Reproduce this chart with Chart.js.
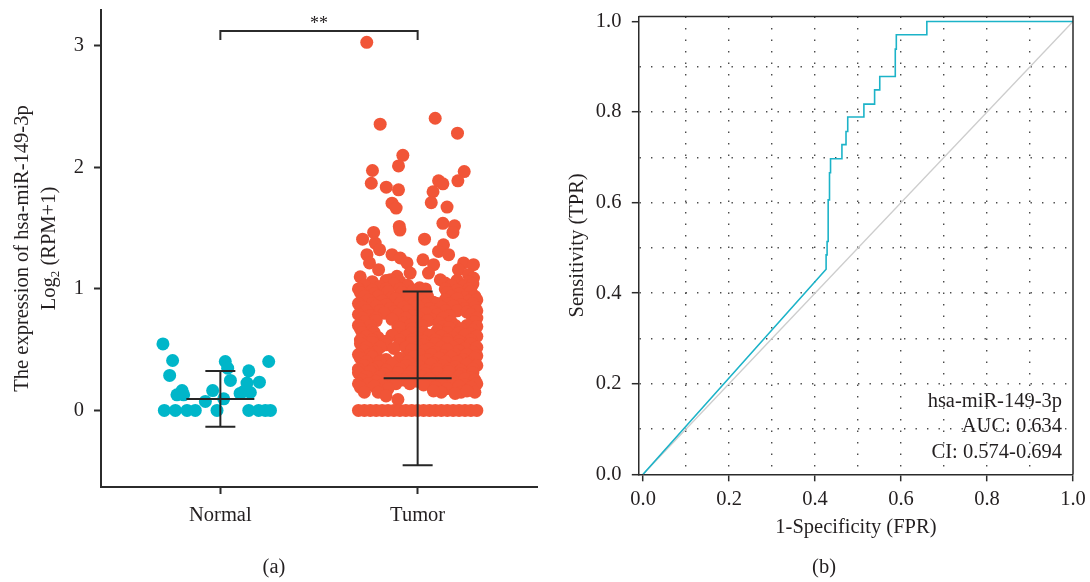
<!DOCTYPE html>
<html>
<head>
<meta charset="utf-8">
<script src="https://cdn.jsdelivr.net/npm/chart.js@4.4.1/dist/chart.umd.min.js"></script>
<style>
  html, body { margin: 0; padding: 0; background: #fff; }
  #wrap { position: relative; width: 1090px; height: 582px; overflow: hidden; }
  canvas { position: absolute; top: 0; }
  #exprChart { left: 0; }
  #rocChart { left: 545px; }
</style>
</head>
<body>
<div id="wrap">
  <canvas id="exprChart" width="545" height="582"></canvas>
  <canvas id="rocChart" width="545" height="582"></canvas>
</div>
<script>
(function () {
  "use strict";

  // ---- Panel (a): expression by group ----
  const groups      = ["Normal", "Tumor"];
  const groupColors = ["#00b6c9", "#f15537"];
  const groupMeans  = [0.095, 0.265];
  const groupSDs    = [0.23, 0.715];
  const exprTicks   = [0, 1, 2, 3];
  const exprTitle   = "The expression of hsa-miR-149-3p";
  const exprTitleLog = ["Log", "2", " (RPM+1)"];
  const sigBracket  = { from: 1, to: 2, level: 3.123, foot: 3.05, label: "**" };

  // [horizontal jitter, log2(RPM+1)]
  const normalPoints = [
    [-0.291, 0.548], [-0.242, 0.411], [-0.257, 0.288], [-0.194, 0.164], [-0.220, 0.129],
    [-0.186, 0.129], [-0.039, 0.164], [-0.076, 0.074], [0.025, 0.403], [0.037, 0.348],
    [0.051, 0.247], [0.017, 0.096], [-0.017, 0], [0.144, 0.326], [0.135, 0.225],
    [0.198, 0.233], [0.245, 0.403], [0.118, 0.156], [0.152, 0.148], [0.100, 0.140],
    [-0.284, 0], [-0.228, 0], [-0.169, 0], [-0.127, 0],
    [0.144, 0], [0.194, 0], [0.228, 0], [0.254, 0]
  ];

  const tumorPoints = [
    // sparse upper values
    [-0.258, 3.03],
    [-0.190, 2.356], [0.089, 2.405], [0.202, 2.282],
    [-0.075, 2.100], [-0.097, 2.013], [-0.229, 1.975], [-0.235, 1.870],
    [-0.159, 1.838], [-0.097, 1.816], [0.106, 1.890], [0.128, 1.865],
    [0.236, 1.966], [0.204, 1.890], [0.078, 1.800], [0.069, 1.710],
    [-0.130, 1.706], [-0.109, 1.666], [0.149, 1.674],
    [-0.093, 1.515], [-0.090, 1.485], [0.128, 1.540], [0.187, 1.520], [0.179, 1.465], [0.035, 1.410],
    [-0.223, 1.465], [-0.279, 1.410], [-0.215, 1.378], [-0.193, 1.323], [-0.257, 1.282],
    [-0.130, 1.282], [-0.088, 1.255], [-0.054, 1.214], [-0.244, 1.214], [-0.198, 1.159],
    [-0.291, 1.100], [-0.038, 1.131], [-0.105, 1.104], [-0.139, 1.076], [0.027, 1.240],
    [0.131, 1.364], [0.106, 1.309], [0.157, 1.282], [0.081, 1.200], [0.055, 1.131],
    [0.233, 1.214], [0.283, 1.200], [0.207, 1.159], [0.258, 1.118], [0.283, 1.090],
    [0.115, 1.076], [0.140, 1.049], [-0.223, 1.035], [-0.274, 0.980], [0.267, 0.940],
    [-0.282, 0.885], [-0.291, 0.800], [0.267, 0.840],
    // dense cloud
    [-0.23, 1.06], [-0.16, 1.07], [-0.09, 1.06], [0.20, 1.07], [0.26, 1.06],
    [-0.27, 1.03], [-0.19, 1.02], [-0.12, 1.04], [-0.05, 1.03], [0.01, 1.01], [0.17, 1.03], [0.23, 1.02], [0.28, 1.04],
    [-0.30, 1.00], [-0.23, 0.99], [-0.16, 1.00], [-0.09, 1.00], [-0.02, 0.99], [0.04, 1.00], [0.14, 1.00], [0.20, 0.99], [0.26, 1.00],
    [-0.29, 0.97], [-0.22, 0.96], [-0.15, 0.98], [-0.08, 0.97], [-0.01, 0.96], [0.03, 0.99], [0.15, 0.97], [0.21, 0.96], [0.27, 0.98],
    [-0.27, 0.94], [-0.20, 0.94], [-0.13, 0.93], [-0.06, 0.94], [0.00, 0.93], [0.05, 0.94], [0.17, 0.94], [0.24, 0.93], [0.29, 0.94],
    [-0.25, 0.91], [-0.18, 0.90], [-0.11, 0.92], [-0.04, 0.91], [0.02, 0.90], [0.08, 0.89], [0.14, 0.91], [0.20, 0.92], [0.26, 0.90], [0.30, 0.91],
    [-0.30, 0.88], [-0.23, 0.88], [-0.16, 0.87], [-0.09, 0.88], [-0.02, 0.88], [0.04, 0.87], [0.10, 0.88], [0.16, 0.88], [0.22, 0.87], [0.28, 0.88],
    [-0.28, 0.85], [-0.21, 0.86], [-0.14, 0.84], [-0.07, 0.85], [0.00, 0.86], [0.06, 0.84], [0.12, 0.85], [0.18, 0.86], [0.24, 0.84], [0.29, 0.85],
    [-0.26, 0.82], [-0.19, 0.82], [-0.12, 0.81], [-0.05, 0.82], [0.02, 0.82], [0.08, 0.81], [0.14, 0.82], [0.20, 0.82], [0.25, 0.81], [0.30, 0.82],
    [-0.30, 0.79], [-0.24, 0.78], [-0.17, 0.80], [-0.10, 0.79], [-0.03, 0.78], [0.04, 0.80], [0.10, 0.79], [0.16, 0.78], [0.27, 0.79],
    [-0.28, 0.76], [-0.21, 0.76], [-0.13, 0.75], [-0.06, 0.76], [0.01, 0.76], [0.07, 0.75], [0.13, 0.76], [0.30, 0.76],
    [-0.27, 0.73], [-0.21, 0.74], [-0.07, 0.72], [-0.01, 0.73], [0.05, 0.74], [0.11, 0.72], [0.17, 0.73], [0.29, 0.73],
    [-0.30, 0.70], [-0.24, 0.70], [-0.10, 0.69], [-0.04, 0.70], [0.02, 0.70], [0.13, 0.69], [0.19, 0.70], [0.25, 0.70], [0.30, 0.69],
    [-0.29, 0.67], [-0.23, 0.66], [-0.09, 0.68], [-0.03, 0.67], [0.10, 0.66], [0.16, 0.68], [0.22, 0.67], [0.28, 0.66],
    [-0.28, 0.64], [-0.22, 0.64], [-0.10, 0.63], [-0.03, 0.64], [0.03, 0.64], [0.09, 0.63], [0.15, 0.64], [0.21, 0.64], [0.27, 0.63],
    [-0.26, 0.61], [-0.20, 0.60], [-0.13, 0.62], [-0.06, 0.61], [0.00, 0.60], [0.06, 0.62], [0.12, 0.61], [0.18, 0.60], [0.24, 0.62], [0.30, 0.61],
    [-0.29, 0.58], [-0.23, 0.58], [-0.16, 0.57], [-0.09, 0.58], [-0.03, 0.58], [0.03, 0.57], [0.09, 0.58], [0.15, 0.58], [0.21, 0.57], [0.27, 0.58],
    [-0.29, 0.55], [-0.23, 0.56], [-0.16, 0.54], [-0.09, 0.55], [-0.03, 0.56], [0.03, 0.54], [0.09, 0.55], [0.15, 0.56], [0.21, 0.54], [0.27, 0.55],
    [-0.26, 0.52], [-0.19, 0.52], [-0.12, 0.51], [-0.06, 0.52], [0.00, 0.52], [0.06, 0.51], [0.12, 0.52], [0.18, 0.52], [0.24, 0.51], [0.30, 0.52],
    [-0.27, 0.49], [-0.21, 0.48], [-0.03, 0.50], [0.03, 0.49], [0.09, 0.48], [0.15, 0.50], [0.21, 0.49], [0.28, 0.48],
    [-0.30, 0.46], [-0.24, 0.46], [-0.05, 0.45], [0.01, 0.46], [0.07, 0.46], [0.13, 0.45], [0.19, 0.46], [0.25, 0.46], [0.30, 0.45],
    [-0.29, 0.43], [-0.23, 0.44], [-0.16, 0.42], [-0.09, 0.43], [-0.02, 0.44], [0.05, 0.42], [0.11, 0.43], [0.17, 0.44], [0.23, 0.42], [0.29, 0.43],
    [-0.26, 0.40], [-0.19, 0.40], [-0.12, 0.39], [-0.05, 0.40], [0.02, 0.40], [0.08, 0.39], [0.14, 0.40], [0.20, 0.40], [0.26, 0.39],
    [-0.27, 0.37], [-0.20, 0.36], [-0.13, 0.38], [-0.06, 0.37], [0.01, 0.36], [0.07, 0.38], [0.13, 0.37], [0.19, 0.36], [0.25, 0.38], [0.30, 0.37],
    [-0.30, 0.34], [-0.23, 0.34], [-0.16, 0.33], [-0.09, 0.34], [-0.02, 0.34], [0.04, 0.33], [0.10, 0.34], [0.16, 0.34], [0.22, 0.33], [0.28, 0.34],
    [-0.30, 0.31], [-0.24, 0.32], [-0.17, 0.30], [-0.10, 0.31], [-0.03, 0.32], [0.04, 0.30], [0.10, 0.31], [0.16, 0.32], [0.22, 0.30], [0.28, 0.31],
    [-0.26, 0.28], [-0.19, 0.28], [-0.12, 0.27], [-0.05, 0.28], [0.02, 0.28], [0.09, 0.27], [0.15, 0.28], [0.21, 0.28], [0.27, 0.27],
    [-0.28, 0.25], [-0.21, 0.24], [-0.14, 0.26], [-0.07, 0.25], [0.00, 0.24], [0.06, 0.26], [0.12, 0.25], [0.18, 0.24], [0.24, 0.26], [0.29, 0.25],
    [-0.30, 0.22], [-0.25, 0.22], [-0.18, 0.21], [-0.11, 0.22], [-0.04, 0.22], [0.03, 0.21], [0.12, 0.22], [0.18, 0.22], [0.24, 0.21], [0.30, 0.22],
    [-0.29, 0.19], [-0.22, 0.20], [-0.15, 0.18], [0.09, 0.19], [0.15, 0.18], [0.21, 0.20], [0.27, 0.19],
    [-0.27, 0.15], [-0.20, 0.15], [0.12, 0.15], [0.22, 0.15], [0.29, 0.15],
    [-0.16, 0.12], [-0.10, 0.09], [0.08, 0.16], [0.19, 0.14], [0.25, 0.16],
    // zero expression
    [-0.30, 0], [-0.27, 0], [-0.24, 0], [-0.21, 0], [-0.18, 0], [-0.15, 0], [-0.12, 0],
    [-0.09, 0], [-0.06, 0], [-0.03, 0], [0.00, 0], [0.03, 0], [0.06, 0], [0.09, 0],
    [0.12, 0], [0.15, 0], [0.18, 0], [0.21, 0], [0.24, 0], [0.27, 0], [0.30, 0]
  ];

  // ---- Panel (b): ROC ----
  const rocFPR = [0, 0.4257, 0.4257, 0.428, 0.428, 0.4305, 0.4305, 0.4336, 0.4336, 0.436, 0.436,
                  0.4625, 0.4625, 0.472, 0.472, 0.476, 0.476, 0.5136, 0.5136, 0.5385, 0.5385,
                  0.5505, 0.5505, 0.5866, 0.5866, 0.589, 0.589, 0.660, 0.660, 1.0];
  const rocTPR = [0, 0.453, 0.4845, 0.4845, 0.514, 0.514, 0.606, 0.606, 0.666, 0.666, 0.697,
                  0.697, 0.728, 0.728, 0.757, 0.757, 0.789, 0.789, 0.8175, 0.8175, 0.849,
                  0.849, 0.8785, 0.8785, 0.939, 0.939, 0.9706, 0.9706, 1.0, 1.0];
  const chanceFPR = [0, 1];
  const chanceTPR = [0, 1];
  const rocGridValues  = [0, 0.1, 0.2, 0.3, 0.4, 0.5, 0.6, 0.7, 0.8, 0.9, 1.0];
  const rocLabelValues = [0, 0.2, 0.4, 0.6, 0.8, 1.0];
  const rocLegend = ["hsa-miR-149-3p", "AUC: 0.634", "CI: 0.574-0.694"];
  const panelLabels = ["(a)", "(b)"];

  const FONT = '"Liberation Serif", "Times New Roman", serif';
  const FS = 20.5;
  const TEXT = "#231f20";
  const AXIS = "#2b2b2b";

  Chart.defaults.font.family = FONT;
  Chart.defaults.font.size = FS;
  Chart.defaults.color = TEXT;

  const toXY = (pts, center) => pts.map(p => ({ x: center + p[0], y: p[1] }));
  const near = (a, b) => Math.abs(a - b) < 1e-9;
  const isLabelled = v => rocLabelValues.some(t => near(t, v));

  // fixed axis boxes, no extra room for overhanging labels
  const fixY = w => s => { s.width = w; s.paddingTop = 0; s.paddingBottom = 0; };
  const fixX = h => s => { s.height = h; s.paddingLeft = 0; s.paddingRight = 0; };

  // ---- plugins for panel (a) ----
  const meanSdPlugin = {
    id: "meanSd",
    afterDatasetsDraw(chart) {
      const { ctx, scales: { x, y } } = chart;
      ctx.save();
      ctx.strokeStyle = "#262626";
      ctx.lineWidth = 2;
      groups.forEach((g, i) => {
        const cx = x.getPixelForValue(i + 1);
        const yt = y.getPixelForValue(groupMeans[i] + groupSDs[i]);
        const yb = y.getPixelForValue(groupMeans[i] - groupSDs[i]);
        const ym = y.getPixelForValue(groupMeans[i]);
        ctx.beginPath();
        ctx.moveTo(cx, yt); ctx.lineTo(cx, yb);
        ctx.moveTo(cx - 15, yt); ctx.lineTo(cx + 15, yt);
        ctx.moveTo(cx - 15, yb); ctx.lineTo(cx + 15, yb);
        ctx.moveTo(cx - 34, ym); ctx.lineTo(cx + 34, ym);
        ctx.stroke();
      });
      ctx.restore();
    }
  };

  const sigPlugin = {
    id: "sig",
    afterDatasetsDraw(chart) {
      const { ctx, scales: { x, y } } = chart;
      const x1 = x.getPixelForValue(sigBracket.from);
      const x2 = x.getPixelForValue(sigBracket.to);
      const yl = y.getPixelForValue(sigBracket.level);
      const yf = y.getPixelForValue(sigBracket.foot);
      ctx.save();
      ctx.strokeStyle = AXIS;
      ctx.lineWidth = 2;
      ctx.beginPath();
      ctx.moveTo(x1, yf); ctx.lineTo(x1, yl); ctx.lineTo(x2, yl); ctx.lineTo(x2, yf);
      ctx.stroke();
      ctx.fillStyle = TEXT;
      ctx.font = `18px ${FONT}`;
      ctx.textAlign = "center";
      ctx.textBaseline = "alphabetic";
      ctx.fillText(sigBracket.label, (x1 + x2) / 2, yl - 2);
      ctx.restore();
    }
  };

  const exprTextPlugin = {
    id: "exprText",
    afterDraw(chart) {
      const { ctx, chartArea: a } = chart;
      const cy = (a.top + a.bottom) / 2;
      ctx.save();
      ctx.fillStyle = TEXT;
      ctx.textBaseline = "middle";
      ctx.translate(23, cy);
      ctx.rotate(-Math.PI / 2);
      ctx.font = `${FS}px ${FONT}`;
      ctx.textAlign = "center";
      ctx.fillText(exprTitle, 0, 0);

      const [base, sub, rest] = exprTitleLog;
      ctx.font = `${FS}px ${FONT}`;
      const w1 = ctx.measureText(base).width;
      const w3 = ctx.measureText(rest).width;
      ctx.font = `13px ${FONT}`;
      const w2 = ctx.measureText(sub).width;
      const x0 = -(w1 + w2 + w3) / 2;
      ctx.textAlign = "left";
      ctx.font = `${FS}px ${FONT}`;
      ctx.fillText(base, x0, 27);
      ctx.font = `13px ${FONT}`;
      ctx.fillText(sub, x0 + w1, 33);
      ctx.font = `${FS}px ${FONT}`;
      ctx.fillText(rest, x0 + w1 + w2, 27);
      ctx.restore();

      ctx.save();
      ctx.fillStyle = TEXT;
      ctx.font = `${FS}px ${FONT}`;
      ctx.textAlign = "center";
      ctx.textBaseline = "middle";
      ctx.fillText(panelLabels[0], 274, 568);
      ctx.restore();
    }
  };

  new Chart(document.getElementById("exprChart"), {
    type: "scatter",
    data: {
      datasets: [
        { label: groups[0], data: toXY(normalPoints, 1), backgroundColor: groupColors[0],
          pointRadius: 6.5, pointHoverRadius: 6.5, borderWidth: 0 },
        { label: groups[1], data: toXY(tumorPoints, 2), backgroundColor: groupColors[1],
          pointRadius: 6.5, pointHoverRadius: 6.5, borderWidth: 0 }
      ]
    },
    options: {
      responsive: false,
      animation: false,
      devicePixelRatio: 1,
      events: [],
      layout: { padding: { top: 10, right: 8, left: 0, bottom: 0 } },
      plugins: { legend: { display: false }, tooltip: { enabled: false } },
      scales: {
        x: {
          type: "linear", min: 0.395, max: 2.605,
          afterBuildTicks: s => { s.ticks = [{ value: 1 }, { value: 2 }]; },
          afterFit: fixX(95),
          ticks: { callback: v => groups[v - 1], padding: 9, color: TEXT, autoSkip: false, maxRotation: 0 },
          grid: { drawOnChartArea: false, tickLength: 7, tickWidth: 2, tickColor: AXIS },
          border: { color: AXIS, width: 2 }
        },
        y: {
          min: -0.63, max: 3.296,
          afterBuildTicks: s => { s.ticks = exprTicks.map(v => ({ value: v })); },
          afterFit: fixY(101),
          ticks: { padding: 10, color: TEXT },
          grid: { drawOnChartArea: false, tickLength: 7, tickWidth: 2, tickColor: AXIS },
          border: { color: AXIS, width: 2 }
        }
      }
    },
    plugins: [meanSdPlugin, sigPlugin, exprTextPlugin]
  });

  // ---- plugins for panel (b) ----
  const framePlugin = {
    id: "frame",
    afterDraw(chart) {
      const { ctx, chartArea: a } = chart;
      ctx.save();
      ctx.strokeStyle = AXIS;
      ctx.lineWidth = 1.5;
      ctx.beginPath();
      ctx.moveTo(a.left, a.top); ctx.lineTo(a.right, a.top); ctx.lineTo(a.right, a.bottom);
      ctx.stroke();

      ctx.fillStyle = TEXT;
      ctx.font = `${FS}px ${FONT}`;
      ctx.textAlign = "right";
      ctx.textBaseline = "middle";
      rocLegend.forEach((t, i) => {
        ctx.fillText(t, a.right - 11, a.bottom - 72.6 + i * 25.3);
      });

      ctx.textAlign = "center";
      ctx.fillText(panelLabels[1], 279, 568);
      ctx.restore();
    }
  };

  const rocGrid = {
    drawOnChartArea: true,
    color: c => (c.tick && (near(c.tick.value, 0) || near(c.tick.value, 1))) ? "rgba(0,0,0,0)" : "#4a4a4a",
    lineWidth: 1.4,
    tickLength: 7,
    tickWidth: 1.5,
    tickColor: c => (c.tick && isLabelled(c.tick.value)) ? AXIS : "rgba(0,0,0,0)"
  };

  new Chart(document.getElementById("rocChart"), {
    type: "scatter",
    data: {
      datasets: [
        { label: rocLegend[0], data: rocFPR.map((f, i) => ({ x: f, y: rocTPR[i] })),
          showLine: true, borderColor: "#1cb3c8", borderWidth: 1.6, pointRadius: 0, tension: 0 },
        { label: "chance", data: chanceFPR.map((f, i) => ({ x: f, y: chanceTPR[i] })),
          showLine: true, borderColor: "#cdcdcd", borderWidth: 1.3, pointRadius: 0, tension: 0 }
      ]
    },
    options: {
      responsive: false,
      animation: false,
      devicePixelRatio: 1,
      events: [],
      layout: { padding: { top: 16.5, right: 17, left: 0, bottom: 0 } },
      plugins: { legend: { display: false }, tooltip: { enabled: false } },
      scales: {
        x: {
          type: "linear", min: -0.01, max: 1.0,
          afterBuildTicks: s => { s.ticks = rocGridValues.map(v => ({ value: v })); },
          afterFit: fixX(107.7),
          ticks: { callback: v => isLabelled(v) ? v.toFixed(1) : "", padding: 6.5, color: TEXT,
                   autoSkip: false, maxRotation: 0 },
          grid: rocGrid,
          border: { color: AXIS, width: 1.5, dash: [1.4, 10.1] },
          title: { display: true, text: "1-Specificity (FPR)", color: TEXT, padding: { bottom: 41.7, top: 0 } }
        },
        y: {
          min: 0, max: 1.011,
          afterBuildTicks: s => { s.ticks = rocGridValues.map(v => ({ value: v })); },
          afterFit: fixY(93.8),
          ticks: { callback: v => isLabelled(v) ? v.toFixed(1) : "", padding: 10.4, color: TEXT, autoSkip: false },
          grid: rocGrid,
          border: { color: AXIS, width: 1.5, dash: [1.4, 10.1] },
          title: { display: true, text: "Sensitivity (TPR)", color: TEXT, padding: { top: 20, bottom: 0 } }
        }
      }
    },
    plugins: [framePlugin]
  });
})();
</script>
</body>
</html>
